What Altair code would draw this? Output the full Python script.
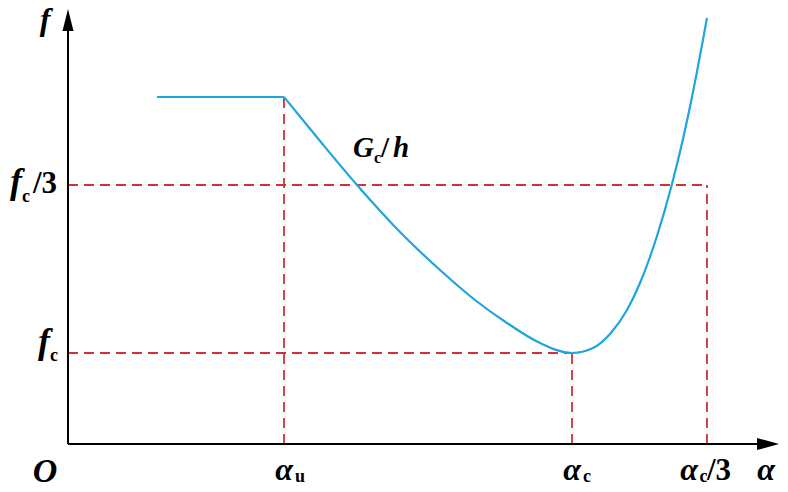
import altair as alt
import pandas as pd

# ---- schematic values (arbitrary units) ----
alpha_u, alpha_c, alpha_c3 = 2.16, 5.04, 6.39
f_c, f_c3, f_plateau = 0.91, 2.59, 3.47
alpha_start = 0.89
alpha_axis_end, f_axis_end = 6.92, 4.16

curve_alpha = [2.16, 2.52, 2.89, 3.32, 3.72, 4.07, 4.39, 4.72, 5.04,
               5.25, 5.42, 5.59, 5.72, 5.82, 5.89, 6.04, 6.15, 6.25, 6.39]
curve_f = [3.47, 3.03, 2.59, 2.12, 1.74, 1.44, 1.21, 1.01, 0.91,
           0.96, 1.10, 1.34, 1.61, 1.87, 2.08, 2.60, 3.05, 3.52, 4.26]

BLUE = "#1FA5DD"
RED = "#D3303A"
FONT = "Liberation Serif"

X = alt.Scale(domain=[-0.60, 7.12], nice=False, zero=False)
Y = alt.Scale(domain=[-0.40, 4.36], nice=False, zero=False)


def xy(df_x="x", df_y="y"):
    return dict(x=alt.X(f"{df_x}:Q", scale=X, axis=None),
                y=alt.Y(f"{df_y}:Q", scale=Y, axis=None))


plateau_df = pd.DataFrame({"x": [alpha_start, alpha_u], "y": [f_plateau, f_plateau]})
curve_df = pd.DataFrame({"x": curve_alpha, "y": curve_f})

dash_df = pd.DataFrame({
    "x": [0, alpha_c3, 0, alpha_c, alpha_u],
    "x2": [alpha_c3, alpha_c3, alpha_c, alpha_c, alpha_u],
    "y": [f_c3, 0, f_c, 0, 0],
    "y2": [f_c3, f_c3, f_c, f_c, f_plateau],
})
axes_df = pd.DataFrame({"x": [0, 0], "x2": [alpha_axis_end, 0],
                        "y": [0, 0], "y2": [0, f_axis_end]})

plateau = alt.Chart(plateau_df).mark_line(color=BLUE, strokeWidth=2.2).encode(**xy())
curve = alt.Chart(curve_df).mark_line(color=BLUE, strokeWidth=2.2,
                                      interpolate="monotone").encode(**xy())

dashes = alt.Chart(dash_df).mark_rule(color=RED, strokeWidth=1.8,
                                      strokeDash=[10, 6]).encode(
    **xy(), x2="x2:Q", y2="y2:Q")

axes = alt.Chart(axes_df).mark_rule(color="black", strokeWidth=2).encode(
    **xy(), x2="x2:Q", y2="y2:Q")

arrow_up = alt.Chart(pd.DataFrame({"x": [0], "y": [4.24]})).mark_point(
    shape="M0,-1L0.5,1L-0.5,1Z", size=484, filled=True, color="black",
    opacity=1, strokeWidth=0).encode(**xy())
arrow_right = alt.Chart(pd.DataFrame({"x": [7.00], "y": [0]})).mark_point(
    shape="M1,0L-1,-0.55L-1,0.55Z", size=484, filled=True, color="black",
    opacity=1, strokeWidth=0).encode(**xy())

# ---- labels: (text, x, y, size, style, align) ----
labels = [
    # axis titles
    ("f", -0.23, 4.14, 32, "italic", "center"),
    ("O", -0.23, -0.38, 34, "italic", "center"),
    ("α", 6.98, -0.355, 32, "italic", "center"),
    # x tick labels
    ("α", alpha_u, -0.355, 32, "italic", "center"),
    ("u", alpha_u + 0.11, -0.375, 18, "normal", "left"),
    ("α", alpha_c, -0.355, 32, "italic", "center"),
    ("c", alpha_c + 0.11, -0.375, 18, "normal", "left"),
    ("α", alpha_c3 - 0.18, -0.355, 32, "italic", "center"),
    ("c", alpha_c3 - 0.075, -0.375, 18, "normal", "left"),
    ("/3", alpha_c3 + 0.0, -0.355, 31, "normal", "left"),
    # y tick labels
    ("f", -0.52, f_c3 - 0.08, 36, "italic", "center"),
    ("c", -0.46, f_c3 - 0.17, 18, "normal", "left"),
    ("/3", -0.11, f_c3 - 0.08, 31, "normal", "right"),
    ("f", -0.24, f_c - 0.00, 36, "italic", "center"),
    ("c", -0.18, f_c - 0.08, 18, "normal", "left"),
    # curve label
    ("G", 2.85, 2.87, 29, "italic", "left"),
    ("c", 3.06, 2.81, 16, "normal", "left"),
    ("/", 3.13, 2.87, 29, "normal", "left"),
    ("h", 3.25, 2.87, 29, "italic", "left"),
]
lab_df = pd.DataFrame(labels, columns=["t", "x", "y", "s", "style", "align"])

text_layers = []
for style in ["italic", "normal"]:
    for align in ["center", "left", "right"]:
        sub = lab_df[(lab_df["style"] == style) & (lab_df["align"] == align)]
        if len(sub) == 0:
            continue
        text_layers.append(
            alt.Chart(sub).mark_text(font=FONT, fontStyle=style, align=align,
                                     fontWeight="bold",
                                     baseline="alphabetic", color="black").encode(
                **xy(), text="t:N", size=alt.Size("s:Q", scale=None, legend=None))
        )

chart = alt.layer(dashes, axes, arrow_up, arrow_right, plateau, curve,
                  *text_layers).properties(
    width=772, height=476,
    autosize=alt.AutoSizeParams(type="none"),
    padding=0,
).configure_view(stroke=None)

chart.save("out.html", embed_options={"renderer": "svg", "actions": False})
